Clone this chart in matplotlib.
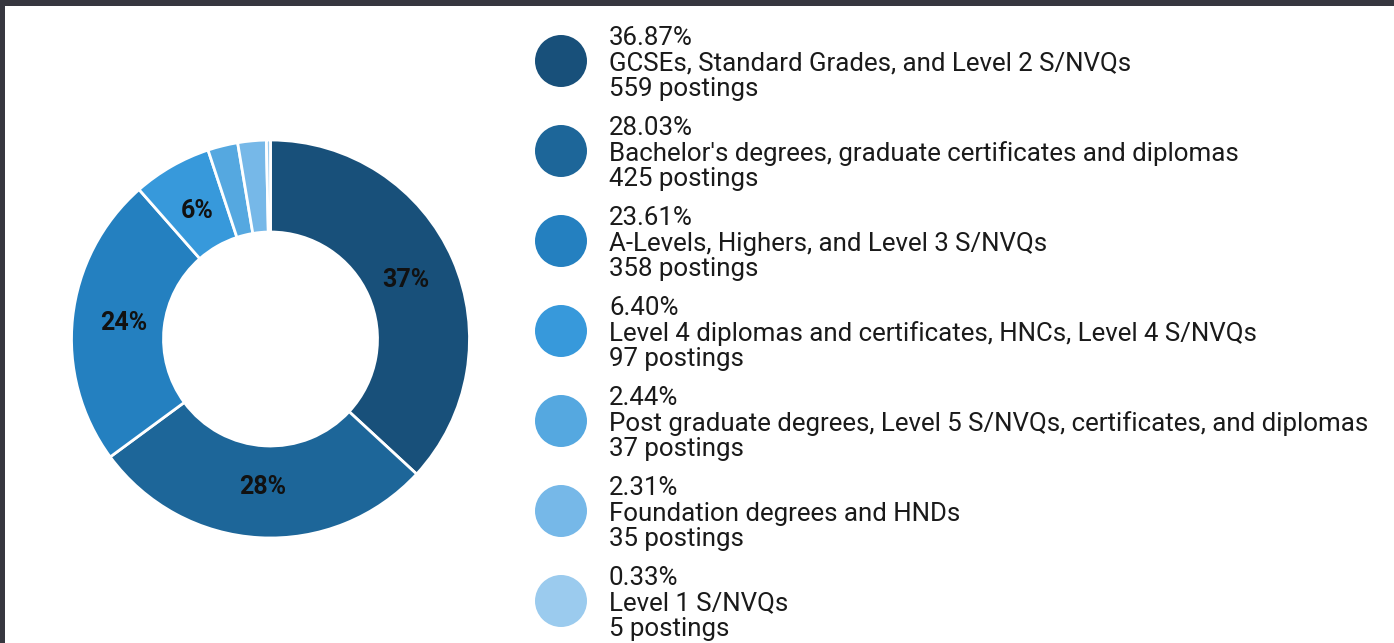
import math
import matplotlib
matplotlib.use("Agg")
import matplotlib.pyplot as plt
from matplotlib.patches import Ellipse, Rectangle

categories = [
    "GCSEs, Standard Grades, and Level 2 S/NVQs",
    "Bachelor's degrees, graduate certificates and diplomas",
    "A-Levels, Highers, and Level 3 S/NVQs",
    "Level 4 diplomas and certificates, HNCs, Level 4 S/NVQs",
    "Post graduate degrees, Level 5 S/NVQs, certificates, and diplomas",
    "Foundation degrees and HNDs",
    "Level 1 S/NVQs",
]
percents = [36.87, 28.03, 23.61, 6.40, 2.44, 2.31, 0.33]
postings = [559, 425, 358, 97, 37, 35, 5]
colors = ["#18507a", "#1d6699", "#2480c0", "#3799db", "#55a8e0", "#76b8e8", "#9bcbee"]

W, H = 1394, 643
fig = plt.figure(figsize=(W / 100, H / 100), dpi=100)
fig.patch.set_facecolor("#37373f")
fig.add_artist(Rectangle((5 / W, 0), (W - 5) / W, (H - 6) / H, transform=fig.transFigure,
                         facecolor="white", edgecolor="none", zorder=0))

cx, cy, R = 270.5, 339, 199
ax = fig.add_axes([(cx - R) / W, (H - cy - R) / H, 2 * R / W, 2 * R / H])
ax.set_facecolor("none")
ax.pie(percents, colors=colors, startangle=90, counterclock=False, radius=1.0,
       wedgeprops=dict(width=1 - 107 / 199, edgecolor="white", linewidth=2))
ax.set_xlim(-1, 1)
ax.set_ylim(-1, 1)
ax.set_aspect("equal")
ax.axis("off")

cum = 0
rmid = (1 + 107 / 199) / 2 - 0.025
for p in percents:
    mid = cum + p / 2
    cum += p
    if p < 5:
        continue
    ang = math.radians(90 - mid * 3.6)
    ax.text(rmid * math.cos(ang), rmid * math.sin(ang), f"{round(p):d}%",
            ha="center", va="center", fontsize=18, fontweight="bold",
            family="Roboto", color="#111111")

for i, (cat, p, n, c) in enumerate(zip(categories, percents, postings, colors)):
    yc = 61 + 90 * i
    fig.add_artist(Ellipse((561 / W, 1 - yc / H), 52 / W, 52 / H, transform=fig.transFigure,
                           facecolor=c, edgecolor="none"))
    for k, txt in enumerate([f"{p:.2f}%", cat, f"{n} postings"]):
        base = yc - 16 + 25.5 * k
        fig.text(609 / W, 1 - base / H, txt, ha="left", va="baseline",
                 fontsize=18.6, family="Roboto", color="#1a1a1a")

fig.savefig("out.png", dpi=100)
